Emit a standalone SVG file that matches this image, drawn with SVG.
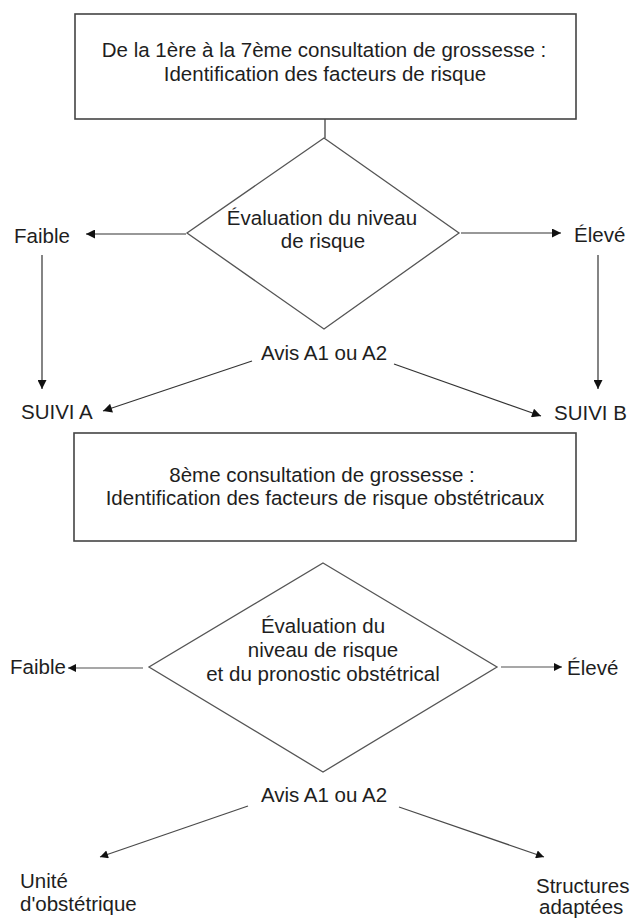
<svg xmlns="http://www.w3.org/2000/svg" width="631" height="919" viewBox="0 0 631 919">
<style>
text{font-family:"Liberation Sans",Arial,sans-serif;font-size:20.5px;fill:#1e1e1e}
.c{text-anchor:middle}
.box{fill:#fff;stroke:#444;stroke-width:1.6}
.dia{fill:#fff;stroke:#555;stroke-width:1.3}
.ln{stroke:#333;stroke-width:1.2;fill:none}
.lt{stroke:#8a8a8a;stroke-width:1.6;fill:none}
.ld{stroke:#4a4a4a;stroke-width:1.3;fill:none}
</style>
<defs>
<marker id="ah" viewBox="0 0 10 10" refX="10" refY="5" markerUnits="userSpaceOnUse" markerWidth="14" markerHeight="9" orient="auto"><path d="M0,0L10,5L0,10z" fill="#111"/></marker>
<marker id="ahs" viewBox="0 0 10 10" refX="10" refY="5" markerUnits="userSpaceOnUse" markerWidth="11" markerHeight="8" orient="auto"><path d="M0,0L10,5L0,10z" fill="#111"/></marker>
</defs>
<g id="connectors">
<line class="ln" x1="325" y1="119" x2="325" y2="138"/>
<line class="ln" x1="186" y1="234" x2="86" y2="234" marker-end="url(#ah)"/>
<line class="ln" x1="461" y1="233" x2="561" y2="233" marker-end="url(#ah)"/>
<line class="ln" x1="42" y1="255" x2="42" y2="389" marker-end="url(#ah)"/>
<line class="ln" x1="598" y1="255" x2="598" y2="389" stroke-width="2" marker-end="url(#ah)"/>
<line class="ln" x1="252" y1="361" x2="103" y2="411" marker-end="url(#ah)"/>
<line class="ln" x1="394" y1="364" x2="541" y2="416" marker-end="url(#ah)"/>
<line class="lt" x1="143" y1="668" x2="68" y2="668" marker-end="url(#ahs)"/>
<line class="lt" x1="501" y1="667" x2="562" y2="667" marker-end="url(#ahs)"/>
<line class="ld" x1="248" y1="806" x2="100" y2="857" marker-end="url(#ahs)"/>
<line class="ld" x1="399" y1="807" x2="544" y2="857" marker-end="url(#ahs)"/>
</g>
<g id="box1">
<rect class="box" x="75" y="14" width="501" height="105"/>
<text class="c" x="324" y="57">De la 1ère à la 7ème consultation de grossesse :</text>
<text class="c" x="325" y="81">Identification des facteurs de risque</text>
</g>
<g id="diamond1">
<polygon class="dia" points="324,138 459,233 324,329 187,233"/>
<text class="c" x="322" y="225">Évaluation du niveau</text>
<text class="c" x="323" y="248">de risque</text>
</g>
<g id="faible1"><text x="14" y="243">Faible</text></g>
<g id="eleve1"><text x="574" y="242">Élevé</text></g>
<g id="avis1"><text class="c" x="324" y="360">Avis A1 ou A2</text></g>
<g id="suiviA"><text x="21" y="419">SUIVI A</text></g>
<g id="suiviB"><text x="554" y="420">SUIVI B</text></g>
<g id="box2">
<rect class="box" x="74" y="433" width="502" height="108"/>
<text class="c" x="322" y="482">8ème consultation de grossesse :</text>
<text class="c" x="325" y="505">Identification des facteurs de risque obstétricaux</text>
</g>
<g id="diamond2">
<polygon class="dia" points="323,563 497,667 323,772 149,667"/>
<text class="c" x="323" y="633">Évaluation du</text>
<text class="c" x="323" y="657">niveau de risque</text>
<text class="c" x="323" y="681">et du pronostic obstétrical</text>
</g>
<g id="faible2"><text x="10" y="674">Faible</text></g>
<g id="eleve2"><text x="567" y="675">Élevé</text></g>
<g id="avis2"><text class="c" x="324" y="802">Avis A1 ou A2</text></g>
<g id="unite"><text x="20" y="888">Unité</text><text x="20" y="911">d'obstétrique</text></g>
<g id="structures"><text x="536" y="893" font-size="20">Structures</text><text x="539" y="914" font-size="20">adaptées</text></g>
</svg>
